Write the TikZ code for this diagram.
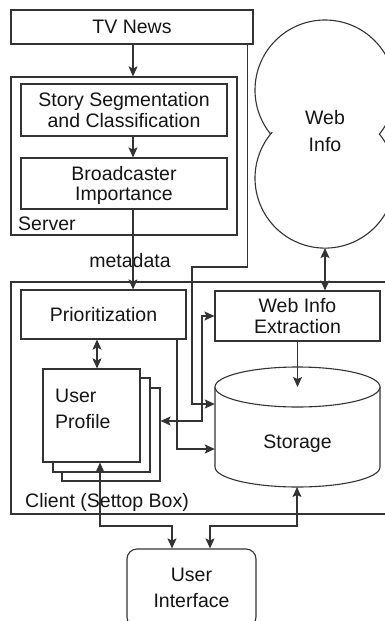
\documentclass[tikz,border=0pt]{standalone}
\usepackage{fontspec}
\setmainfont{Liberation Sans}
\usetikzlibrary{arrows.meta,calc}
\begin{document}
\begin{tikzpicture}[x=1pt,y=-1pt,
  ln/.style={draw=black!80,line width=1.1pt},
  txt/.style={inner sep=0pt,text=black!92,font=\fontsize{19.5}{20.5}\selectfont},
  box/.style={ln,fill=white,inner sep=0pt,align=center,text depth=0pt,text=black!92,font=\fontsize{19.5}{20.5}\selectfont},
  arr/.style={ln,-{Stealth[length=10pt,width=9pt,inset=2pt]}},
  darr/.style={ln,{Stealth[length=10pt,width=9pt,inset=2pt]}-{Stealth[length=10pt,width=9pt,inset=2pt]}}]
\useasboundingbox (0,0) rectangle (385,621);
\clip (0,0) rectangle (385,621);

% outer containers
\node[box,fill=none,minimum width=226pt,minimum height=158pt] (server) at (124,156) {};
\node[box,fill=none,minimum width=389pt,minimum height=232pt] (client) at (205.5,398) {};
\node[txt,anchor=base west] (serverlbl) at (18,230) {Server};
\node[txt,anchor=base west] (clientlbl) at (25,507) {Client (Settop Box)};

% server side
\node[box,minimum width=242pt,minimum height=34pt] (tv) at (132,27) {TV News};
\node[box,minimum width=206pt,minimum height=52pt] (story) at (124,110) {Story Segmentation\\and Classification};
\node[box,minimum width=206pt,minimum height=51pt] (bc) at (124,183.5) {Broadcaster\\Importance};
\node[txt,anchor=base] (meta) at (130,267) {metadata};

% web info cloud
\draw[ln,fill=white] (325,90) ++(141:70) arc[start angle=141,end angle=399,radius=70]
  arc[start angle=-39,end angle=221,radius=70] -- cycle;
\node[txt,align=center,font=\fontsize{19.5}{27}\selectfont] (web) at (325,131.5) {Web\\Info};
\coordinate (webbot) at (325,248);

% client side
\node[box,minimum width=165pt,minimum height=49pt] (prio) at (103.5,314.5) {Prioritization};
\node[box,minimum width=165pt,minimum height=50pt] (wie) at (297.5,316) {Web Info\\Extraction};

% storage cylinder
\node[inner sep=0pt,minimum width=165pt,minimum height=80pt] (stor) at (297.5,427) {};
\coordinate (stortop) at (297.5,387);
\coordinate (storbot) at (297,487);
\draw[ln,fill=white] (215,387) -- (215,467) arc[start angle=180,end angle=0,x radius=82.5,y radius=20] -- (380,387);
\draw[ln,fill=white] (stortop) ellipse[x radius=82.5,y radius=20];
\node[txt,anchor=base] (stortxt) at (297.5,448) {Storage};

% user profile stack
\node[box,minimum width=98pt,minimum height=93pt] (prof3) at (111,434.5) {};
\node[box,minimum width=97pt,minimum height=94pt] (prof2) at (101.5,425) {};
\node[box,minimum width=97pt,minimum height=93pt] (prof) at (91.5,415.5) {};
\node[txt,anchor=west,align=left,font=\fontsize{19.5}{26}\selectfont] (proftxt) at (55,409) {User\\Profile};

% user interface
\node[box,rounded corners=10pt,minimum width=129pt,minimum height=78pt,font=\fontsize{19.5}{26}\selectfont] (ui) at (191.5,588) {User\\Interface};

% helper coordinates
\coordinate (xa) at (133,0);
\coordinate (j1) at (192,267);
\coordinate (j2) at (192,404);
\coordinate (j3) at (177,449);
\coordinate (px) at (97,0);
\coordinate (j5) at (202,421);
\coordinate (k1) at (100,526);
\coordinate (k2) at (172,526);
\coordinate (m1) at (297,526);
\coordinate (m2) at (210,526);

% connectors
\draw[arr] (tv.south -| xa) -- (server.north -| xa);
\draw[arr] (story.south -| xa) -- (bc.north -| xa);
\draw[arr] (bc.south -| xa) -- (prio.north -| xa);
\draw[arr] ([xshift=-6pt]tv.south east) |- (j1) |- (stor.west |- j2);
\draw[darr] (prio.south -| px) -- (prof.north -| px);
\draw[arr] (prio.south -| j3) |- (stor.west |- j3);
\draw[darr] (wie.west) -| (j5) -- (prof3.east |- j5);
\draw[darr] (webbot) -- (wie.north -| webbot);
\draw[arr] (wie.south) -- (stortop);
\draw[darr] (prof.south -| k1) -- (k1) -- (k2) -- (ui.north -| k2);
\draw[darr] (storbot) -- (m1) -- (m2) -- (ui.north -| m2);
\end{tikzpicture}
\end{document}
